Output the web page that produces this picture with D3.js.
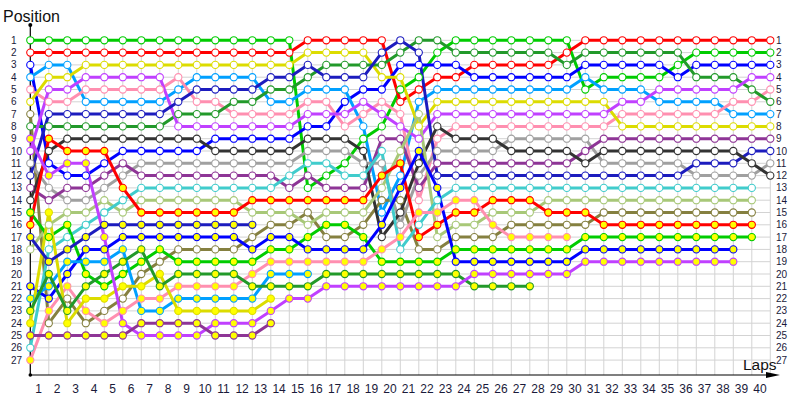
<!DOCTYPE html>
<html>
<head>
<meta charset="utf-8">
<script src="https://cdn.jsdelivr.net/npm/d3@7"></script>
<style>
  body { margin: 0; background: #fff; }
  svg { display: block; }
  text { font-family: "Liberation Sans", Arial, sans-serif; }
</style>
</head>
<body>
<svg id="chart" width="800" height="400"></svg>
<script>
// driver codes: upper case = open marker, lower case = yellow marker
const drivers = ["GR","RD","BL","LB","PK","YE","OL","DG","PU","GY","DB","PL","BK","LG","CY",
                 "gr","rd","bl","lb","pk","ye","dg","pu","db","pl"]

const teamColor = {
  GR: "#00cc00", RD: "#ff0000", BL: "#0000ff", LB: "#00a0ff", PK: "#ff8fb0",
  YE: "#dcdc00", OL: "#858040", DG: "#22992a", PU: "#c040ff", GY: "#a0a0a0",
  DB: "#1c1cbe", PL: "#8e3596", BK: "#333333", LG: "#a8c878", CY: "#40cccc"
}

// running order after each lap (lap 0 = grid, "--" = empty slot)
const lapOrder = [
  "GR RD BL LB PK YE OL DG pu PU GY DB PL BK gr rd db LG -- -- bl lb dg ye pl CY pk",
  "GR RD LB YE PU PK DB DG rd BK BL pu GY PL ye LG gr CY db dg lb bl pk OL pl",
  "GR RD LB YE PU PK DB DG BK rd pu BL PL GY LG gr CY db lb bl pk OL dg ye pl",
  "GR RD YE PU PK LB DB DG BK rd pu BL PL GY LG CY db bl lb gr dg ye pk OL pl",
  "GR RD YE PU PK LB DB DG BK rd BL PL GY LG CY db pu bl lb dg gr ye OL pk pl",
  "GR RD YE PU PK LB DB DG BK BL PL GY rd CY LG db bl lb dg gr ye OL pk pu pl",
  "GR RD YE PU PK LB DB DG BK BL GY PL CY LG rd db bl dg gr OL ye pk lb pl pu",
  "GR RD YE PU PK LB DB DG BK BL GY PL CY LG rd db bl gr OL ye dg pk lb pl pu",
  "GR RD YE PK LB DB DG PU BK BL GY PL CY LG rd db bl OL gr dg pk lb ye pl pu",
  "GR RD YE LB DB PK DG PU BK BL GY PL CY LG rd db bl OL gr dg pk lb ye pl pu",
  "GR RD YE LB DB PK DG PU BL BK GY PL CY LG rd db bl OL gr dg pk lb ye pu pl",
  "GR RD YE LB DB DG PK PU BL BK GY PL CY LG rd db bl OL gr dg pk lb ye pu pl",
  "GR RD YE LB DB DG PK PU BL BK GY PL CY rd LG db OL bl gr pk dg lb ye pu pl",
  "GR RD YE DB DG LB PK PU BL BK GY PL CY rd LG OL bl gr pk lb dg ye pu pl",
  "GR RD YE DB DG LB PK PU BL BK GY CY PL rd LG OL bl gr pk lb dg pu",
  "RD YE DB DG LB PK PU BL BK GY CY PL GR rd OL LG gr bl pk lb dg pu",
  "RD YE DG DB LB PK PU BL BK GY CY GR PL rd LG gr OL bl pk dg pu",
  "RD YE DG DB LB BL PU PK BK GY GR CY PL rd LG gr OL bl pk dg pu",
  "RD YE DG DB BL PU PK LB GR BK GY CY PL rd LG OL gr bl pk dg pu",
  "RD DB DG YE BL PK PU GR PL CY GY rd LG OL LB bl BK pk gr dg pu",
  "DB DG BL YE GR RD PK PU PL LG rd LB bl OL BK GY pk CY gr dg pu",
  "DG DB BL GR RD LB LG YE PU bl BK GY PL PK pk CY rd OL gr dg pu",
  "DG GR BL RD LB YE PU BK PK GY PL DB bl CY pk rd LG OL gr dg pu",
  "GR DG BL RD LB YE PU PK BK GY PL DB CY pk rd LG OL gr bl dg pu",
  "GR DG RD BL LB YE PU PK BK GY PL DB CY pk rd LG OL gr bl pu dg",
  "GR DG RD BL LB YE PU PK BK GY PL DB CY rd LG pk OL gr bl pu dg",
  "GR DG RD BL LB YE PU PK GY BK PL DB CY rd LG OL pk gr bl pu dg",
  "GR DG RD BL LB YE PU PK GY BK PL DB CY rd LG OL pk gr bl pu dg",
  "GR DG RD BL LB YE PU PK GY BK PL DB CY LG rd OL pk gr bl pu",
  "GR RD DG BL LB YE PU PK GY BK PL DB CY LG rd OL pk gr bl pu",
  "RD DG BL LB GR YE PU PK GY PL BK DB CY LG rd OL gr bl pu",
  "RD DG BL GR LB YE PU PK PL BK GY DB CY LG OL rd gr bl pu",
  "RD DG BL GR LB PU PK YE PL BK GY DB CY LG OL rd gr bl pu",
  "RD DG BL GR LB PU PK YE PL BK GY DB CY LG OL rd gr bl pu",
  "RD DG BL GR PU LB PK YE PL BK GY DB CY LG OL rd gr bl pu",
  "RD DG GR BL PU LB PK YE PL BK GY DB CY LG OL rd gr bl pu",
  "RD GR BL DG PU LB PK YE PL BK DB GY CY LG OL rd gr bl pu",
  "RD GR BL DG PU LB PK YE PL BK DB GY CY LG OL rd gr bl pu",
  "RD GR BL DG PU PK LB YE PL BK DB GY CY LG OL rd gr bl pu",
  "RD GR BL PU DG PK LB YE PL DB BK GY CY LG OL rd gr",
  "RD GR BL PU PK DG LB YE PL DB GY BK"
]

const positions = d3.range(1, 28)
const lapLabels = d3.range(1, 41)

const svg = d3.select("#chart")

const x = d3.scaleLinear().domain([0, 40]).range([30.3, 770.3])
const y = d3.scaleLinear().domain([1, 27]).range([40.3, 360.1])
const xLabel = d3.scaleLinear().domain([1, 40]).range([38.6, 760])
const axisY = 375

// series per driver
const orders = lapOrder.map(s => s.split(" "))
const series = drivers.map(code => {
  const pts = []
  orders.forEach((o, lap) => {
    const i = o.indexOf(code)
    if (i >= 0) pts.push({lap: lap, pos: i + 1})
  })
  return {code, color: teamColor[code.toUpperCase()], yellow: code !== code.toUpperCase(), pts}
})

// grid
const grid = svg.append("g").attr("stroke", "#d3d3d3").attr("stroke-width", 1)
grid.selectAll("line.h").data(positions).join("line")
  .attr("x1", x(0)).attr("x2", x(40))
  .attr("y1", d => y(d)).attr("y2", d => y(d))
grid.selectAll("line.v").data(d3.range(0, 41)).join("line")
  .attr("x1", d => x(d)).attr("x2", d => x(d))
  .attr("y1", y(1)).attr("y2", axisY)

// axes
svg.append("line").attr("x1", x(0)).attr("x2", x(0)).attr("y1", 25).attr("y2", axisY)
  .attr("stroke", "#000").attr("stroke-width", 1.2)
svg.append("line").attr("x1", x(0)).attr("x2", 772).attr("y1", axisY).attr("y2", axisY)
  .attr("stroke", "#000").attr("stroke-width", 1.2)
svg.append("path").attr("d", `M766,${axisY - 3}L780,${axisY}L766,${axisY + 3}Z`).attr("fill", "#000")
svg.append("circle").attr("cx", x(0)).attr("cy", 25).attr("r", 2).attr("fill", "#000")
svg.append("circle").attr("cx", x(0)).attr("cy", axisY).attr("r", 1.8).attr("fill", "#000")

svg.append("text").attr("x", 3).attr("y", 22).attr("font-size", 16).attr("fill", "#111").text("Position")
svg.append("text").attr("x", 743).attr("y", 370).attr("font-size", 15.5).attr("fill", "#111").text("Laps")

svg.append("g").selectAll("text").data(positions).join("text")
  .attr("x", 11).attr("y", d => y(d)).attr("dy", "0.35em")
  .attr("font-size", 10).attr("fill", "#1a1a3a").text(d => d)
svg.append("g").selectAll("text").data(positions).join("text")
  .attr("x", 776).attr("y", d => y(d)).attr("dy", "0.35em")
  .attr("font-size", 10).attr("fill", "#1a1a3a").text(d => d)
svg.append("g").selectAll("text").data(lapLabels).join("text")
  .attr("x", d => xLabel(d)).attr("y", 389).attr("dy", "0.35em")
  .attr("text-anchor", "middle").attr("font-size", 12).attr("fill", "#1a1a3a").text(d => d)

// lines then markers
const line = d3.line().x(d => x(d.lap)).y(d => y(d.pos))
svg.append("g").selectAll("path").data(series).join("path")
  .attr("d", d => line(d.pts))
  .attr("fill", "none")
  .attr("stroke", d => d.color)
  .attr("stroke-width", 3)
  .attr("stroke-linejoin", "round")

svg.append("g").selectAll("g").data(series).join("g")
  .each(function(s) {
    d3.select(this).selectAll("circle").data(s.pts).join("circle")
      .attr("cx", d => x(d.lap))
      .attr("cy", d => y(d.pos))
      .attr("r", 3.6)
      .attr("fill", s.yellow ? "#ffff00" : "#fff")
      .attr("stroke", s.color)
      .attr("stroke-width", 1.1)
  })
</script>
</body>
</html>
